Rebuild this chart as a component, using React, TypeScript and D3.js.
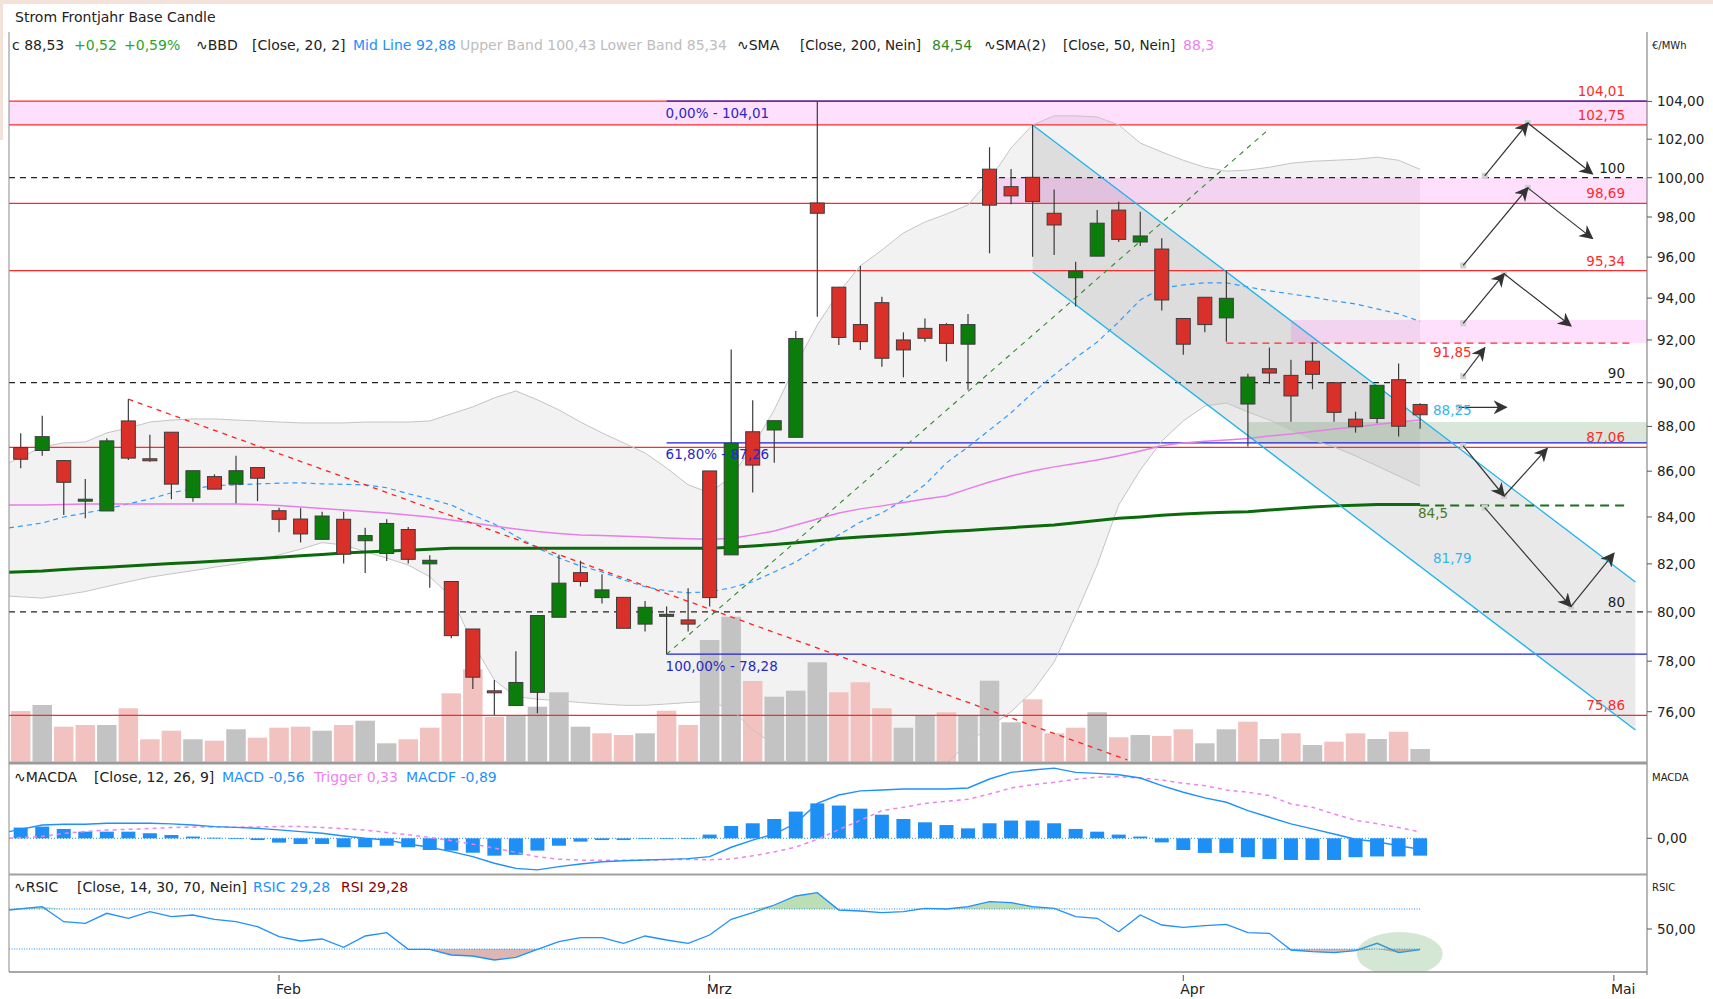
import React from 'react';
import * as d3 from 'd3';

// ---- price data (one candle per trading day) ----
const opens = [87.05,86.92,86.47,84.75,84.26,88.25,86.55,87.74,84.84,85.76,85.43,86.16,84.27,83.91,83.04,83.9,82.98,82.44,83.46,82.0,81.26,79.3,76.82,76.24,76.76,79.78,81.63,80.59,80.6,79.5,79.85,79.67,86.01,82.38,87.76,87.84,87.51,98.71,94.53,92.73,93.78,92.0,92.55,92.73,91.8,100.44,99.54,100.02,98.19,94.99,96.05,98.35,96.75,96.4,93.02,94.04,93.05,89.02,90.65,90.34,91.0,90.0,88.33,88.36,90.14,89.0];
const highs = [87.69,88.48,86.5,85.66,87.47,89.24,87.63,87.74,86.02,85.86,86.68,86.16,84.4,84.38,84.23,84.23,83.54,83.9,83.57,82.36,81.26,79.3,77.25,78.4,79.85,82.38,82.13,81.56,80.6,80.45,80.22,80.98,86.01,91.55,89.19,88.26,92.43,104.01,94.53,95.58,94.07,92.36,93.02,92.8,93.23,101.58,100.45,102.75,99.4,95.77,98.35,98.77,98.27,96.94,93.02,94.04,95.35,90.42,91.64,91.07,91.89,90.0,88.67,89.88,90.89,89.05];
const lows = [86.13,86.68,84.08,83.94,84.26,86.5,86.42,84.77,84.66,85.21,84.59,84.69,83.34,82.9,83.04,82.02,81.62,82.12,82.02,81.0,78.92,76.89,75.87,76.24,75.94,79.78,81.05,80.35,79.33,79.2,78.28,79.2,80.22,82.38,85.06,86.37,87.51,93.1,91.76,91.53,90.74,90.25,91.92,90.99,89.67,96.19,98.65,96.02,96.1,93.59,96.05,96.75,96.55,93.4,91.3,92.36,91.92,87.1,89.95,88.21,89.7,88.21,87.72,88.14,87.55,87.9];
const closes = [86.53,87.54,85.51,84.77,87.35,86.58,86.54,85.43,86.02,85.21,86.02,85.69,83.9,83.27,84.04,82.41,83.2,83.72,82.19,82.15,79.03,77.36,76.8,77.15,79.85,81.19,81.26,80.91,79.33,80.19,79.9,79.5,80.59,87.24,86.27,88.26,92.07,98.19,92.12,91.92,91.14,91.53,92.08,91.84,92.73,98.6,99.07,98.78,97.6,95.32,97.69,96.88,97.05,93.91,91.8,92.73,93.99,90.26,90.45,89.39,90.39,88.64,87.99,89.88,88.01,88.53];
const volumes = [507,567,350,367,367,534,224,310,224,210,324,240,340,350,310,367,410,184,224,340,684,924,450,467,550,694,350,284,267,284,510,367,1217,1450,807,650,710,994,694,794,534,340,460,494,460,810,394,624,284,340,494,244,267,257,324,184,324,400,227,284,167,200,284,227,300,127];

// ---- indicators ----
const bbUpper = [86.37,87.08,87.26,87.3,87.71,87.93,88.2,88.29,88.34,88.34,88.29,88.25,88.2,88.16,88.16,88.16,88.2,88.2,88.2,88.25,88.57,88.89,89.3,89.62,89.21,88.75,88.2,87.71,87.26,86.81,86.14,85.4,85.05,85.75,87.1,88.75,90.83,92.71,94.29,95.57,96.35,97.2,97.75,98.15,98.61,99.88,101.54,102.75,103.23,103.23,103.17,102.75,101.8,101.33,100.9,100.54,100.34,100.39,100.54,100.75,100.85,100.9,100.95,101.06,100.9,100.43];
const bbMid = [83.53,83.74,84.0,84.17,84.35,84.57,84.78,85.05,85.23,85.36,85.4,85.44,85.47,85.49,85.44,85.42,85.4,85.27,85.01,84.78,84.52,84.08,83.7,83.18,82.67,82.25,81.91,81.66,81.33,81.04,80.87,80.79,80.83,81.0,81.25,81.66,82.08,82.67,83.23,83.78,84.17,84.74,85.4,86.37,87.08,87.84,88.62,89.53,90.36,91.16,91.9,92.86,93.91,94.49,94.64,94.74,94.74,94.54,94.35,94.2,94.05,93.86,93.72,93.48,93.24,92.88];
const bbLower = [80.65,80.57,80.7,80.84,81.05,81.25,81.44,81.58,81.71,81.86,81.99,82.16,82.38,82.62,82.9,82.8,82.52,82.24,81.95,81.46,80.62,78.72,77.25,76.59,76.49,76.43,76.36,76.3,76.25,76.25,76.3,76.36,76.4,76.1,75.3,74.7,73.4,72.7,72.2,72.0,72.0,72.3,73.0,74.0,74.8,75.4,76.0,76.8,77.96,79.87,81.95,84.52,86.05,87.34,88.25,88.93,89.07,88.66,88.29,87.84,87.39,87.08,86.68,86.23,85.79,85.34];
const sma200 = [81.65,81.7,81.76,81.81,81.86,81.91,81.96,82.01,82.06,82.11,82.16,82.22,82.28,82.34,82.4,82.46,82.5,82.54,82.58,82.62,82.66,82.66,82.66,82.66,82.66,82.66,82.66,82.66,82.66,82.66,82.66,82.66,82.66,82.7,82.76,82.82,82.89,82.98,83.08,83.14,83.19,83.25,83.31,83.37,83.42,83.48,83.54,83.6,83.65,83.75,83.85,83.94,84.0,84.07,84.13,84.17,84.2,84.23,84.3,84.37,84.43,84.48,84.51,84.54,84.54,84.54];
const sma50 = [84.52,84.52,84.54,84.56,84.56,84.56,84.56,84.56,84.56,84.56,84.56,84.54,84.5,84.43,84.37,84.3,84.24,84.17,84.08,84.0,83.87,83.74,83.61,83.48,83.37,83.29,83.23,83.2,83.17,83.14,83.1,83.06,83.04,83.08,83.23,83.4,83.65,83.91,84.17,84.35,84.48,84.63,84.78,84.91,85.22,85.52,85.79,86.01,86.19,86.34,86.5,86.68,86.9,87.13,87.26,87.33,87.39,87.46,87.57,87.66,87.77,87.88,87.97,88.09,88.2,88.29];
const macdLine = [0.34,0.68,0.72,0.72,0.77,0.77,0.77,0.74,0.68,0.6,0.56,0.51,0.43,0.34,0.26,0.12,0.0,-0.09,-0.29,-0.46,-0.68,-0.94,-1.28,-1.54,-1.62,-1.45,-1.32,-1.2,-1.15,-1.11,-1.08,-1.04,-0.94,-0.46,-0.09,0.22,0.77,1.79,2.22,2.43,2.48,2.53,2.53,2.53,2.58,3.04,3.38,3.5,3.6,3.38,3.33,3.26,3.09,2.7,2.36,2.07,1.85,1.42,1.08,0.74,0.48,0.22,-0.05,-0.18,-0.38,-0.56];
const macdTrigger = [0.0,0.1,0.25,0.35,0.42,0.46,0.5,0.55,0.58,0.58,0.57,0.58,0.6,0.6,0.56,0.5,0.42,0.3,0.18,0.05,-0.12,-0.3,-0.5,-0.72,-0.95,-1.07,-1.12,-1.13,-1.12,-1.12,-1.1,-1.08,-1.1,-1.06,-0.9,-0.7,-0.45,-0.05,0.45,0.92,1.42,1.59,1.79,1.9,2.0,2.27,2.58,2.75,2.87,3.03,3.13,3.16,3.09,2.99,2.82,2.7,2.48,2.36,2.19,1.76,1.59,1.25,0.92,0.75,0.55,0.33];
const macdHist = [0.55,0.6,0.48,0.34,0.34,0.34,0.26,0.17,0.09,0.03,0.0,-0.09,-0.22,-0.29,-0.29,-0.46,-0.46,-0.38,-0.46,-0.6,-0.63,-0.74,-0.89,-0.85,-0.63,-0.38,-0.17,-0.09,-0.09,-0.03,-0.02,0.0,0.19,0.63,0.77,0.99,1.37,1.79,1.68,1.52,1.21,0.99,0.82,0.68,0.51,0.77,0.91,0.91,0.77,0.48,0.34,0.19,0.09,-0.21,-0.6,-0.75,-0.75,-0.97,-1.06,-1.11,-1.11,-1.11,-0.97,-0.93,-0.93,-0.89];
const rsi = [69,72.3,57.3,55.7,65.7,60.7,67.3,62.3,64,59.7,57.3,52.3,42.3,38,40,31.7,43,46.3,29.7,29.7,24,23,19,21.7,29.7,37.3,41.3,41.3,35.7,43,39,35.7,44,59.7,66.3,74,83,86.3,69,68,66.3,67.3,70.7,70,72.3,77.3,76.3,72.3,70.7,62.3,60.7,47.3,64,54,51.7,53.3,54.7,46.3,45.7,29,27.3,26.3,28.3,35.7,26.3,29.28];

// ---- axes ----
const priceTicks = [76,78,80,82,84,86,88,90,92,94,96,98,100,102,104];
const monthIdx = [12, 32, 54, 74];
const monthLabels = ['Feb', 'Mrz', 'Apr', 'Mai'];

// ---- drawn annotations (index, price) ----
const redLevels = [104.01, 102.75, 98.69, 95.34, 87.06, 75.86];
const redLabels = ['104,01', '102,75', '98,69', '95,34', '87,06', '75,86'];
const roundLevels = [100, 90, 80];
const roundLabels = ['100', '90', '80'];
const fibLevels = [104.01, 87.26, 78.28];
const fibLabels = ['0,00% - 104,01', '61,80% - 87,26', '100,00% - 78,28'];
const channelTop = [[47, 102.75], [75, 81.24]];
const channelBottom = [[47, 95.27], [75, 75.29]];
const upTrend = [[30, 78.28], [57.93, 102.48]];
const downTrend = [[5, 89.24], [51.4, 74.14]];
const scenarios = [
  [[68, 100.1], [70, 102.85], [73, 100.2]],
  [[67, 95.59], [70, 99.48], [73, 96.93]],
  [[67, 92.79], [68.9, 95.18], [72, 92.67]],
  [[67, 90.3], [68, 91.63]],
  [[66.8, 88.87], [69, 88.87]],
  [[67, 87.13], [68.9, 84.91], [70.9, 87.01]],
  [[68, 84.4], [72, 80.22], [74, 82.44]],
];

const FONT = "'DejaVu Sans', Verdana, sans-serif";
const plotL = 9, plotR = 1647;
const mainTop = 32, mainBot = 761.7;
const macdTop = 764, macdBot = 873;
const rsiTop = 876, rsiBot = 972;

const fmt = (v) => v.toFixed(2).replace('.', ',');

export default function App() {
  const x = d3.scaleLinear().domain([0, 74]).range([20.7, 1613.9]);
  const y = d3.scaleLog().domain([76, 104]).range([711.7, 101.4]);
  const vy = d3.scaleLinear().domain([0, 1450]).range([mainBot, mainBot - 145]);
  const my = d3.scaleLinear().domain([0, 1]).range([838.3, 818.8]);
  const ry = d3.scaleLinear().domain([30, 70]).range([949, 909]);
  const lastX = x(closes.length - 1);

  const xl = (_, i) => (i === 0 ? plotL : x(i));
  const priceLine = d3.line().x(xl).y((d) => y(d));
  const bandArea = d3.area().x(xl).y0((_, i) => y(bbLower[i])).y1((d) => y(d));
  const macdPath = d3.line().x(xl).y((d) => my(d));
  const rsiPath = d3.line().x(xl).y((d) => ry(d));
  const rsiHigh = d3.area().x(xl).y0(ry(70)).y1((d) => ry(Math.max(d, 70)));
  const rsiLow = d3.area().x(xl).y0(ry(30)).y1((d) => ry(Math.min(d, 30)));

  const P = (pt) => [x(pt[0]), y(pt[1])];
  const chPoly = [P(channelTop[0]), P(channelTop[1]), P(channelBottom[1]), P(channelBottom[0])];

  const hdr = [
    { t: 'c 88,53', x: 12, c: '#222' },
    { t: '+0,52', x: 74, c: '#2aa52a' },
    { t: '+0,59%', x: 124, c: '#2aa52a' },
    { t: '\u223FBBD', x: 196, c: '#222' },
    { t: '[Close, 20, 2]', x: 252, c: '#222' },
    { t: 'Mid Line 92,88', x: 353, c: '#1e90ff' },
    { t: 'Upper Band 100,43', x: 460, c: '#bdbdbd' },
    { t: 'Lower Band 85,34', x: 600, c: '#bdbdbd' },
    { t: '\u223FSMA', x: 737, c: '#222' },
    { t: '[Close, 200, Nein]', x: 800, c: '#222', s: 13.5 },
    { t: '84,54', x: 932, c: '#2e8b1e' },
    { t: '\u223FSMA(2)', x: 984, c: '#222' },
    { t: '[Close, 50, Nein]', x: 1063, c: '#222', s: 13.5 },
    { t: '88,3', x: 1183, c: '#ee82ee' },
  ];
  const macdHdr = [
    { t: '\u223FMACDA', x: 14, c: '#222' },
    { t: '[Close, 12, 26, 9]', x: 94, c: '#222' },
    { t: 'MACD -0,56', x: 222, c: '#1e90ff' },
    { t: 'Trigger 0,33', x: 314, c: '#ee82ee' },
    { t: 'MACDF -0,89', x: 406, c: '#1e90ff' },
  ];
  const rsiHdr = [
    { t: '\u223FRSIC', x: 14, c: '#222' },
    { t: '[Close, 14, 30, 70, Nein]', x: 77, c: '#222' },
    { t: 'RSIC 29,28', x: 253, c: '#1e90ff' },
    { t: 'RSI 29,28', x: 341, c: '#8b0000' },
  ];

  return (
    <div style={{ position: 'fixed', left: 0, top: 0, width: 1713, height: 999, background: '#fff' }}>
      <svg width={1713} height={999} style={{ display: 'block' }} fontFamily={FONT}>
        <defs>
          <clipPath id="clipMain"><rect x={plotL} y={mainTop} width={plotR - plotL} height={mainBot - mainTop} /></clipPath>
          <clipPath id="clipMacd"><rect x={plotL} y={macdTop} width={plotR - plotL} height={macdBot - macdTop} /></clipPath>
          <clipPath id="clipRsi"><rect x={plotL} y={rsiTop} width={plotR - plotL} height={rsiBot - rsiTop} /></clipPath>
          <marker id="arr" viewBox="0 0 10 10" refX="9" refY="5" markerWidth="14" markerHeight="14" markerUnits="userSpaceOnUse" orient="auto">
            <path d="M0,0 L10,5 L0,10 L3,5 z" fill="#333" />
          </marker>
        </defs>

        <rect x={0} y={0} width={1713} height={4} fill="#f2e2d9" />
        <rect x={0} y={0} width={3} height={140} fill="#f2e2d9" />

        <text x={15} y={22} fontSize={14} fill="#222">Strom Frontjahr Base Candle</text>
        {hdr.map((h, k) => (
          <text key={k} x={h.x} y={50} fontSize={h.s || 14} fill={h.c}>{h.t}</text>
        ))}

        {/* main panel */}
        <g clipPath="url(#clipMain)">
          <path d={bandArea(bbUpper)} fill="#f2f2f2" />
          <polygon points={chPoly.map((p) => p.join(',')).join(' ')} fill="rgba(0,0,0,0.085)" />
          <rect x={plotL} y={y(104.01)} width={plotR - plotL} height={y(102.75) - y(104.01)} fill="rgba(255,0,230,0.12)" />
          <rect x={x(45) - 7} y={y(100)} width={plotR - x(45) + 7} height={y(98.69) - y(100)} fill="rgba(255,0,230,0.12)" />
          <rect x={x(59)} y={y(92.95)} width={plotR - x(59)} height={y(91.85) - y(92.95)} fill="rgba(255,0,230,0.12)" />
          <rect x={x(57)} y={y(88.2)} width={plotR - x(57)} height={y(87.26) - y(88.2)} fill="rgba(70,130,70,0.2)" />

          {volumes.map((v, i) => {
            const up = i === 0 ? closes[0] >= opens[0] : closes[i] >= closes[i - 1];
            return (
              <rect key={i} x={x(i) - 9.75} y={vy(v)} width={19.5} height={mainBot - vy(v)} fill={up ? '#c3c3c3' : '#f1c2bf'} />
            );
          })}

          {redLevels.map((p, k) => (
            <line key={k} x1={plotL} x2={plotR} y1={y(p)} y2={y(p)} stroke="#ff2a2a" strokeWidth={1.2} />
          ))}
          {roundLevels.map((p, k) => (
            <line key={k} x1={plotL} x2={plotR} y1={y(p)} y2={y(p)} stroke="#222" strokeWidth={1.2} strokeDasharray="6,5" />
          ))}
          {fibLevels.map((p, k) => (
            <line key={k} x1={x(30)} x2={plotR} y1={y(p)} y2={y(p)} stroke="#2020d8" strokeWidth={1.3} />
          ))}

          <path d={priceLine(bbUpper)} fill="none" stroke="#c4c4c4" strokeWidth={1} />
          <path d={priceLine(bbLower)} fill="none" stroke="#c4c4c4" strokeWidth={1} />
          <path d={priceLine(bbMid)} fill="none" stroke="#2f9bff" strokeWidth={1.2} strokeDasharray="5,4" />
          <path d={priceLine(sma50)} fill="none" stroke="#e87ee8" strokeWidth={1.5} />
          <path d={priceLine(sma200)} fill="none" stroke="#0b6b0b" strokeWidth={3} />

          <line x1={P(downTrend[0])[0]} y1={P(downTrend[0])[1]} x2={P(downTrend[1])[0]} y2={P(downTrend[1])[1]} stroke="#ff2020" strokeWidth={1.3} strokeDasharray="5,5" />
          <line x1={P(upTrend[0])[0]} y1={P(upTrend[0])[1]} x2={P(upTrend[1])[0]} y2={P(upTrend[1])[1]} stroke="#2e8b2e" strokeWidth={1.1} strokeDasharray="5,5" />
          <line x1={P(channelTop[0])[0]} y1={P(channelTop[0])[1]} x2={P(channelTop[1])[0]} y2={P(channelTop[1])[1]} stroke="#1cb4ec" strokeWidth={1.3} />
          <line x1={P(channelBottom[0])[0]} y1={P(channelBottom[0])[1]} x2={P(channelBottom[1])[0]} y2={P(channelBottom[1])[1]} stroke="#1cb4ec" strokeWidth={1.3} />

          <line x1={x(56)} x2={1630} y1={y(91.85)} y2={y(91.85)} stroke="#ff2a2a" strokeWidth={1.3} strokeDasharray="7,5" />
          <line x1={lastX} x2={1627} y1={y(84.5)} y2={y(84.5)} stroke="#1f6e1f" strokeWidth={2} strokeDasharray="9,6" />

          {closes.map((c, i) => {
            const o = opens[i];
            const top = y(Math.max(o, c));
            const h = Math.max(2, y(Math.min(o, c)) - top);
            return (
              <g key={i}>
                <line x1={x(i)} x2={x(i)} y1={y(highs[i])} y2={y(lows[i])} stroke="#3c3c3c" strokeWidth={1.2} />
                <rect x={x(i) - 7} y={top} width={14} height={h} fill={c >= o ? '#0b7d0b' : '#d9302a'} stroke="#3c3c3c" strokeWidth={1} />
              </g>
            );
          })}

          {scenarios.map((pts, k) => (
            <g key={k}>
              {pts.slice(0, -1).map((pt, j) => (
                <rect key={j} x={x(pt[0]) - 3} y={y(pt[1]) - 3} width={6} height={6} fill="#cfcfcf" />
              ))}
              {pts.slice(1).map((pt, j) => (
                <line key={j} x1={x(pts[j][0])} y1={y(pts[j][1])} x2={x(pt[0])} y2={y(pt[1])} stroke="#333" strokeWidth={1.2} markerEnd="url(#arr)" />
              ))}
            </g>
          ))}

          {redLevels.map((p, k) => (
            <text key={k} x={1625} y={y(p) - 5} fontSize={13.5} fill="#ff2a2a" textAnchor="end">{redLabels[k]}</text>
          ))}
          {roundLevels.map((p, k) => (
            <text key={k} x={1625} y={y(p) - 5} fontSize={13.5} fill="#222" textAnchor="end">{roundLabels[k]}</text>
          ))}
          {fibLevels.map((p, k) => (
            <text key={k} x={x(30) - 1} y={y(p) + 16.5} fontSize={13.5} fill="#2828c8">{fibLabels[k]}</text>
          ))}
          <text x={1433} y={y(91.85) + 14} fontSize={13.5} fill="#ff2a2a">91,85</text>
          <text x={1433} y={y(88.25) - 6} fontSize={13.5} fill="#33b5ec">88,25</text>
          <text x={1418} y={y(84.5) + 13} fontSize={13.5} fill="#4a7a1e">84,5</text>
          <text x={1433} y={y(81.79) - 6} fontSize={13.5} fill="#33b5ec">81,79</text>
        </g>

        {/* MACD panel */}
        <g clipPath="url(#clipMacd)">
          <line x1={plotL} x2={lastX + 7} y1={my(0)} y2={my(0)} stroke="#1e90ff" strokeWidth={1} strokeDasharray="1,2" />
          {macdHist.map((v, i) => (
            <rect key={i} x={x(i) - 7} y={Math.min(my(v), my(0))} width={14} height={Math.max(0.8, Math.abs(my(v) - my(0)))} fill="#1e8ff5" />
          ))}
          <path d={macdPath(macdTrigger)} fill="none" stroke="#ee82ee" strokeWidth={1.5} strokeDasharray="4,4" />
          <path d={macdPath(macdLine)} fill="none" stroke="#1e90ff" strokeWidth={1.4} />
        </g>
        {macdHdr.map((h, k) => (
          <text key={k} x={h.x} y={782} fontSize={14} fill={h.c}>{h.t}</text>
        ))}

        {/* RSI panel */}
        <g clipPath="url(#clipRsi)">
          <path d={rsiHigh(rsi)} fill="rgba(60,160,40,0.35)" />
          <path d={rsiLow(rsi)} fill="rgba(170,70,60,0.4)" />
          <line x1={plotL} x2={lastX} y1={ry(70)} y2={ry(70)} stroke="#1e90ff" strokeWidth={1} strokeDasharray="1,1.5" />
          <line x1={plotL} x2={lastX} y1={ry(30)} y2={ry(30)} stroke="#1e90ff" strokeWidth={1} strokeDasharray="1,1.5" />
          <path d={rsiPath(rsi)} fill="none" stroke="#1e90ff" strokeWidth={1.3} />
          <ellipse cx={x(64.05)} cy={ry(25)} rx={43} ry={22} fill="rgba(100,165,100,0.28)" />
        </g>
        {rsiHdr.map((h, k) => (
          <text key={k} x={h.x} y={892} fontSize={14} fill={h.c}>{h.t}</text>
        ))}

        {/* frames */}
        <line x1={plotL} x2={plotL} y1={mainTop} y2={rsiBot} stroke="#8a8a8a" strokeWidth={1} />
        <line x1={plotR} x2={plotR} y1={mainTop} y2={rsiBot + 3} stroke="#707070" strokeWidth={1} />
        <line x1={plotL} x2={plotR} y1={mainBot + 1.3} y2={mainBot + 1.3} stroke="#9a9a9a" strokeWidth={3} />
        <line x1={plotL} x2={plotR} y1={874.5} y2={874.5} stroke="#a0a0a0" strokeWidth={2} />
        <line x1={plotL} x2={plotR} y1={rsiBot} y2={rsiBot} stroke="#8a8a8a" strokeWidth={1.5} />

        {/* right axis */}
        <text x={1652} y={49} fontSize={10} fill="#222">€/MWh</text>
        {priceTicks.map((t) => (
          <g key={t}>
            <line x1={plotR} x2={plotR + 5} y1={y(t)} y2={y(t)} stroke="#555" />
            <text x={1657} y={y(t) + 5} fontSize={13.5} fill="#222">{fmt(t)}</text>
          </g>
        ))}
        <text x={1652} y={781} fontSize={10} fill="#222">MACDA</text>
        <line x1={plotR} x2={plotR + 5} y1={my(0)} y2={my(0)} stroke="#555" />
        <text x={1657} y={my(0) + 5} fontSize={13.5} fill="#222">{fmt(0)}</text>
        <text x={1652} y={891} fontSize={10} fill="#222">RSIC</text>
        <line x1={plotR} x2={plotR + 5} y1={ry(50)} y2={ry(50)} stroke="#555" />
        <text x={1657} y={ry(50) + 5} fontSize={13.5} fill="#222">{fmt(50)}</text>

        {/* time axis */}
        {monthIdx.map((m, k) => (
          <g key={m}>
            <line x1={x(m)} x2={x(m)} y1={975} y2={981} stroke="#555" />
            <text x={x(m) - 3} y={994} fontSize={14} fill="#222">{monthLabels[k]}</text>
          </g>
        ))}
      </svg>
    </div>
  );
}
